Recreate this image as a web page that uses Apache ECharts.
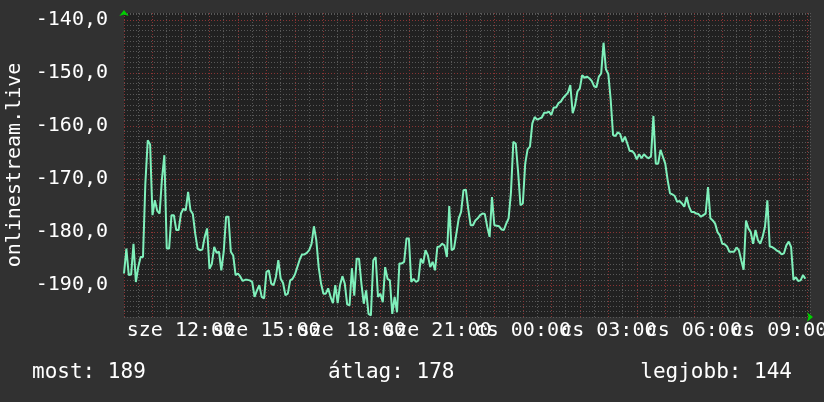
<!DOCTYPE html>
<html><head><meta charset="utf-8">
<script src="https://cdn.jsdelivr.net/npm/echarts@6/dist/echarts.min.js"></script>
<style>html,body{margin:0;padding:0;background:#313131;}#c{width:824px;height:402px;}</style>
</head><body><div id="c"></div>
<script>
// ---- data ----
const seriesName = 'onlinestream.live';
const startHour = 10;          // sze 10:00
const stepMinutes = 5;
const values = [
 -187.8,-183.1,-188.1,-188.0,-182.2,-189.4,-186.6,-184.7,-184.7,-170.8,
 -162.7,-163.5,-176.8,-174.0,-176.0,-176.5,-169.9,-165.5,-183.1,-183.1,
 -176.8,-176.8,-179.6,-179.6,-176.5,-175.6,-175.9,-172.4,-175.9,-176.6,
 -180.3,-183.1,-183.4,-183.3,-180.9,-179.3,-186.9,-186.0,-182.8,-183.9,
 -183.7,-187.2,-183.7,-177.1,-177.1,-183.7,-184.4,-188.1,-187.8,-188.4,
 -189.2,-189.0,-189.0,-189.1,-189.4,-192.2,-191.0,-190.0,-192.2,-192.5,
 -187.5,-187.2,-189.7,-190.0,-188.4,-185.3,-188.8,-189.6,-191.9,-191.6,
 -189.1,-188.8,-188.0,-186.6,-185.2,-184.2,-184.2,-183.9,-183.4,-182.2,
 -178.9,-181.5,-186.6,-189.7,-191.6,-191.6,-190.6,-192.2,-193.4,-190.0,
 -193.4,-190.0,-188.3,-189.7,-193.6,-193.8,-186.8,-192.0,-185.0,-185.0,
 -189.7,-193.5,-191.0,-195.4,-195.7,-185.3,-184.7,-192.2,-191.6,-193.2,
 -186.6,-188.8,-189.1,-195.4,-192.2,-195.1,-185.9,-185.9,-185.6,-181.2,
 -181.2,-189.4,-188.8,-189.4,-189.1,-185.0,-185.9,-183.4,-184.4,-186.6,
 -185.6,-187.2,-182.8,-182.7,-182.2,-182.5,-184.7,-175.1,-183.4,-183.1,
 -180.3,-177.4,-176.2,-172.1,-172.0,-175.6,-178.7,-178.7,-177.8,-177.4,
 -176.8,-176.5,-176.6,-179.0,-180.9,-173.4,-178.7,-178.8,-178.9,-179.5,
 -179.6,-178.4,-177.4,-172.5,-163.0,-163.3,-168.6,-174.9,-174.6,-167.1,
 -164.4,-163.9,-159.5,-158.3,-158.8,-158.6,-158.4,-157.5,-157.5,-157.3,
 -157.9,-156.5,-156.5,-155.7,-155.4,-154.7,-154.2,-153.7,-152.3,-157.6,
 -156.1,-153.5,-152.9,-150.4,-150.9,-150.7,-151.0,-151.5,-152.5,-152.7,
 -150.7,-150.1,-144.3,-149.3,-150.2,-155.0,-161.7,-161.9,-161.2,-161.5,
 -163.0,-162.0,-163.3,-164.7,-164.7,-165.2,-166.3,-165.3,-166.1,-165.3,
 -165.8,-166.1,-165.7,-158.1,-167.1,-167.1,-164.5,-165.8,-167.1,-170.2,
 -172.7,-172.9,-173.2,-174.3,-174.1,-174.6,-175.2,-173.4,-175.2,-176.2,
 -176.2,-176.5,-176.6,-177.1,-176.8,-176.5,-171.5,-177.4,-177.8,-178.4,
 -180.0,-180.6,-182.2,-182.3,-182.7,-183.7,-183.7,-183.7,-182.9,-183.4,
 -185.3,-187.1,-177.8,-179.3,-180.0,-182.2,-179.6,-181.5,-182.2,-180.9,
 -179.0,-174.0,-182.7,-182.8,-183.1,-183.5,-183.7,-184.2,-184.0,-182.5,
 -181.8,-182.8,-189.0,-188.5,-189.2,-189.1,-188.1,-188.8
];
const xTickHours  = [12, 15, 18, 21, 24, 27, 30, 33];
const xTickLabels = ['sze 12:00','sze 15:00','sze 18:00','sze 21:00','cs 00:00','cs 03:00','cs 06:00','cs 09:00'];
const yTickValues = [-190, -180, -170, -160, -150, -140];
const yTickLabels = ['-190,0','-180,0','-170,0','-160,0','-150,0','-140,0'];
const legendLabels = ['most: 189', 'átlag: 178', 'legjobb: 144'];

// ---- chart ----
const points = values.map((v, i) => [startHour + i * stepMinutes / 60, v]);
const FONT = 'DejaVu Sans Mono';
const RED = '#8a3434', GREY = '#585858', ARROW = '#00d000';

const chart = echarts.init(document.getElementById('c'), null, {renderer: 'canvas'});
chart.setOption({
  backgroundColor: '#313131',
  animation: false,
  title: legendLabels.map((t, i) => ({
    text: t,
    left: [32, 328, null][i],
    right: [null, null, 32][i],
    top: 362,
    padding: 0,
    textStyle: {color: '#ffffff', fontFamily: FONT, fontSize: 21, fontWeight: 'normal'}
  })),
  grid: {left: 124, right: 14, top: 13, bottom: 85, show: true,
         backgroundColor: '#212121', borderWidth: 0, outerBoundsMode: 'none'},
  xAxis: {
    type: 'value', min: 10, max: 34.08, interval: 0.5,
    axisLine: {show: true, symbol: ['none', 'arrow'], symbolSize: [7, 6], symbolOffset: [0, 3],
               lineStyle: {color: ARROW, width: 0}},
    axisTick: {show: false},
    splitLine: {show: true, lineStyle: {color: [RED, GREY], width: 1, type: [1, 2]}},
    axisLabel: {
      color: '#ffffff', fontFamily: FONT, fontSize: 20, margin: 4,
      formatter: v => { const i = xTickHours.indexOf(v); return i >= 0 ? xTickLabels[i] : ''; }
    }
  },
  yAxis: {
    type: 'value', min: -196, max: -138.7, interval: 1,
    name: seriesName, nameLocation: 'middle', nameGap: 98,
    nameTextStyle: {color: '#ffffff', fontFamily: FONT, fontSize: 20},
    axisLine: {show: true, symbol: ['none', 'arrow'], symbolSize: [7, 6], symbolOffset: [0, 3],
               lineStyle: {color: ARROW, width: 0}},
    axisTick: {show: false},
    splitLine: {show: true, lineStyle: {
      color: [GREY, GREY, GREY, GREY, GREY, GREY, RED, GREY, GREY, GREY], width: 1, type: [1, 2]}},
    axisLabel: {
      color: '#ffffff', fontFamily: FONT, fontSize: 20, margin: 16,
      formatter: v => { const i = yTickValues.indexOf(v); return i >= 0 ? yTickLabels[i] : ''; }
    }
  },
  series: [{
    name: seriesName, type: 'line', data: points, symbol: 'none', showSymbol: false,
    lineStyle: {color: '#7ff0bb', width: 2}, z: 5
  }]
});
</script>
</body></html>
